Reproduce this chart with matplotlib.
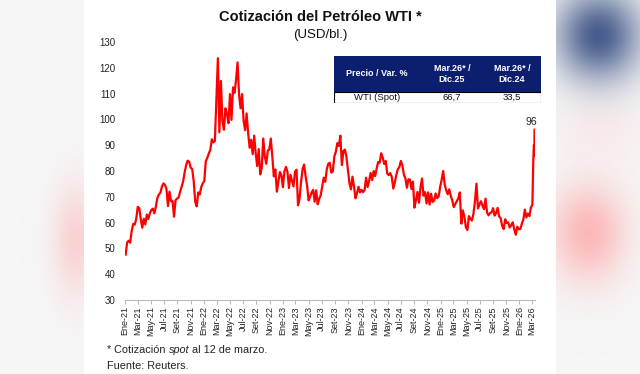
import numpy as np
import pandas as pd
import matplotlib
matplotlib.use("Agg")
from matplotlib import pyplot as plt
from matplotlib.patches import Rectangle

plt.rcParams["font.family"] = ["Liberation Sans", "DejaVu Sans"]

# WTI semanal (USD/bl.)
wti_2021 = [47.6, 52.3, 53.0, 52.2, 56.8, 59.5, 59.2, 61.5, 66.1, 65.6, 61.4, 58.0, 61.5,
            59.3, 63.1, 61.4, 63.6, 64.9, 65.4, 63.6, 66.3, 69.6, 70.9, 71.6, 74.0, 75.2,
            74.6, 73.0, 66.4, 72.0, 68.3, 68.4, 62.3, 68.7, 69.3, 69.7, 71.9, 73.9, 75.9,
            79.4, 82.3, 84.0, 83.6, 81.3, 80.8, 76.1, 68.2, 66.3, 71.7, 70.9, 73.8, 75.2]
wti_2022 = [76.1, 83.8, 85.1, 86.8, 88.2, 92.3, 91.1, 91.6, 107.7, 123.7, 95.0, 114.9, 99.3,
            96.0, 104.3, 102.1, 98.5, 109.8, 99.8, 112.4, 110.3, 115.3, 122.1, 109.6, 104.3,
            109.8, 99.5, 95.8, 102.3, 94.7, 89.0, 92.1, 86.5, 93.7, 86.9, 81.9, 88.5, 78.7,
            81.2, 92.6, 85.6, 82.8, 87.9, 88.4, 92.6, 85.6, 77.9, 80.6, 72.0, 75.9, 79.6, 78.4]
wti_2023 = [73.7, 79.9, 81.6, 79.7, 73.4, 78.5, 76.3, 74.0, 79.7, 80.5, 66.7, 69.3, 75.7,
            80.7, 82.5, 77.9, 74.3, 68.6, 70.0, 71.7, 72.7, 68.1, 72.5, 67.1, 69.2, 70.6,
            73.9, 77.4, 75.8, 80.6, 82.8, 83.2, 79.4, 79.8, 85.6, 87.5, 90.8, 89.7, 93.7,
            82.3, 87.7, 88.3, 85.5, 80.4, 75.3, 72.9, 77.8, 74.1, 69.4, 71.4, 73.9, 71.7]
wti_2024 = [72.7, 71.8, 72.6, 77.4, 73.8, 76.2, 79.2, 76.5, 80.0, 78.0, 81.0, 83.5, 83.2,
            86.9, 85.2, 82.7, 83.9, 79.0, 78.4, 79.2, 77.7, 73.2, 75.5, 78.5, 80.7, 81.5,
            83.9, 82.2, 78.6, 77.2, 73.5, 76.8, 76.7, 73.0, 75.9, 65.8, 68.7, 71.9, 67.7,
            73.7, 77.1, 70.4, 71.8, 67.4, 71.7, 67.0, 71.2, 68.0, 68.5, 71.3, 69.5, 70.1, 73.9]
wti_2025 = [76.6, 80.0, 74.7, 72.5, 71.0, 72.9, 70.4, 68.6, 66.0, 67.2, 68.3, 69.4, 71.7,
            59.6, 64.7, 62.3, 58.2, 57.1, 62.5, 61.5, 60.8, 63.4, 68.2, 75.1, 65.5, 67.0,
            68.3, 66.5, 65.2, 69.3, 63.9, 62.8, 63.7, 64.0, 65.6, 62.7, 63.7, 65.7, 62.4,
            61.7, 58.7, 57.5, 61.3, 59.8, 60.1, 58.1, 59.0, 60.1, 57.4, 55.3, 58.4, 57.4]
wti_2026 = [57.5, 59.5, 61.2, 65.0, 62.0, 63.5, 62.5, 65.8, 67.0]
marzo_fechas = ["2026-03-04", "2026-03-06", "2026-03-09", "2026-03-11", "2026-03-12"]
marzo_wti = [75.0, 84.0, 90.0, 86.0, 96.0]

primer_lunes = ["2021-01-04", "2022-01-03", "2023-01-02", "2024-01-01", "2025-01-06", "2026-01-05"]
series = [wti_2021, wti_2022, wti_2023, wti_2024, wti_2025, wti_2026]

fechas = []
valores = []
for ini, vals in zip(primer_lunes, series):
    fechas.extend(pd.date_range(ini, periods=len(vals), freq="7D"))
    valores.extend(vals)
fechas.extend(pd.to_datetime(marzo_fechas))
valores.extend(marzo_wti)

tick_fechas = pd.date_range("2021-01-01", "2026-03-01", freq="2MS")
meses = {1: "Ene", 3: "Mar", 5: "May", 7: "Jul", 9: "Set", 11: "Nov"}
tick_labels = [f"{meses[d.month]}-{d.strftime('%y')}" for d in tick_fechas]

tabla_header = ["Precio / Var. %", "Mar.26* /\nDic.25", "Mar.26* /\nDic.24"]
tabla_fila = ["WTI (Spot)", "66,7", "33,5"]

W, H = 640, 374
fig = plt.figure(figsize=(W / 100, H / 100), dpi=100)

# fondo difuminado de la captura
bg = fig.add_axes([0, 0, 1, 1], zorder=0)
yy, xx = np.mgrid[0:H, 0:W]
img = np.ones((H, W, 3)) * 0.965


def blob(cx, cy, sx, sy, color, k):
    w = k * np.exp(-((xx - cx) ** 2 / (2 * sx ** 2) + (yy - cy) ** 2 / (2 * sy ** 2)))
    for c in range(3):
        img[:, :, c] = img[:, :, c] * (1 - w) + color[c] * w


blob(75, 240, 16, 38, (1.0, 0.65, 0.65), 0.45)
blob(588, 232, 26, 34, (1.0, 0.62, 0.62), 0.7)
blob(600, 130, 30, 25, (1.0, 0.85, 0.85), 0.35)
blob(598, 35, 30, 32, (0.16, 0.26, 0.48), 0.85)
img[:, 84:556, :] = 1.0
bg.imshow(img, aspect="auto", extent=(0, W, H, 0), interpolation="bilinear")
bg.set_xlim(0, W)
bg.set_ylim(H, 0)
bg.axis("off")

ax = fig.add_axes([125 / W, 1 - 300 / H, (535 - 125) / W, (300 - 42) / H], zorder=1)
ax.patch.set_alpha(0)
ax.plot(fechas, valores, color="#ff0000", lw=1.6)
ax.set_ylim(30, 130)
ax.set_yticks(range(30, 131, 10))
ax.set_xlim(pd.Timestamp("2021-01-01"), pd.Timestamp("2026-03-14"))
ax.set_xticks(tick_fechas)
ax.set_xticklabels(tick_labels, rotation=90, fontsize=6.5, color="#222222")
ax.tick_params(axis="y", length=0, pad=7, labelsize=7, labelcolor="#222222")
ax.tick_params(axis="x", length=3, color="#bbbbbb", pad=1.5)
for s in ["left", "right", "top"]:
    ax.spines[s].set_visible(False)
ax.spines["bottom"].set_color("#bbbbbb")
ax.spines["bottom"].set_linewidth(0.8)

ax.annotate(f"{valores[-1]:.0f}", (fechas[-1], valores[-1]), xytext=(-2, 2),
            textcoords="offset points", ha="center", va="bottom", fontsize=7.5, color="#222222")

fig.text(320 / W, 1 - 17 / H, "Cotización del Petróleo WTI *", ha="center", va="center",
         fontsize=10.5, fontweight="bold", color="#111111")
fig.text(320 / W, 1 - 35 / H, "(USD/bl.)", ha="center", va="center", fontsize=9.5, color="#111111")

# tabla
tx = fig.add_axes([334 / W, 1 - 103 / H, (541 - 334) / W, (103 - 56) / H], zorder=2)
tx.set_xlim(0, 207)
tx.set_ylim(47, 0)
tx.axis("off")
tx.add_patch(Rectangle((0, 0), 207, 36, facecolor="#0b1f6e", edgecolor="none"))
tx.add_patch(Rectangle((0, 36), 207, 11, facecolor="white", edgecolor="black", lw=0.8))
col_x = [43, 118, 178]
for x, h, r in zip(col_x, tabla_header, tabla_fila):
    tx.text(x, 18, h, ha="center", va="center", color="white", fontsize=6.5,
            fontweight="bold", linespacing=1.3)
    tx.text(x, 41.5, r, ha="center", va="center", color="#111111", fontsize=6.8)

# nota al pie con "spot" en cursiva
fs = 7.8
fig.canvas.draw()
r = fig.canvas.get_renderer()
t1 = fig.text(107 / W, 1 - 350 / H, "* Cotización", ha="left", va="center", fontsize=fs, color="#222222")
sp = fig.text(0, 0, "a a", fontsize=fs)
sp2 = fig.text(0, 0, "aa", fontsize=fs)
esp = sp.get_window_extent(r).width - sp2.get_window_extent(r).width
sp.remove()
sp2.remove()
w1 = t1.get_window_extent(r).width
t2 = fig.text((107 + w1 + esp) / W, 1 - 350 / H, "spot", ha="left", va="center", fontsize=fs,
              style="italic", color="#222222")
w2 = t2.get_window_extent(r).width
fig.text((107 + w1 + w2 + 2 * esp) / W, 1 - 350 / H, "al 12 de marzo.", ha="left", va="center",
         fontsize=fs, color="#222222")
fig.text(107 / W, 1 - 366 / H, "Fuente: Reuters.", ha="left", va="center", fontsize=fs, color="#222222")

fig.savefig("out.png", dpi=100)
